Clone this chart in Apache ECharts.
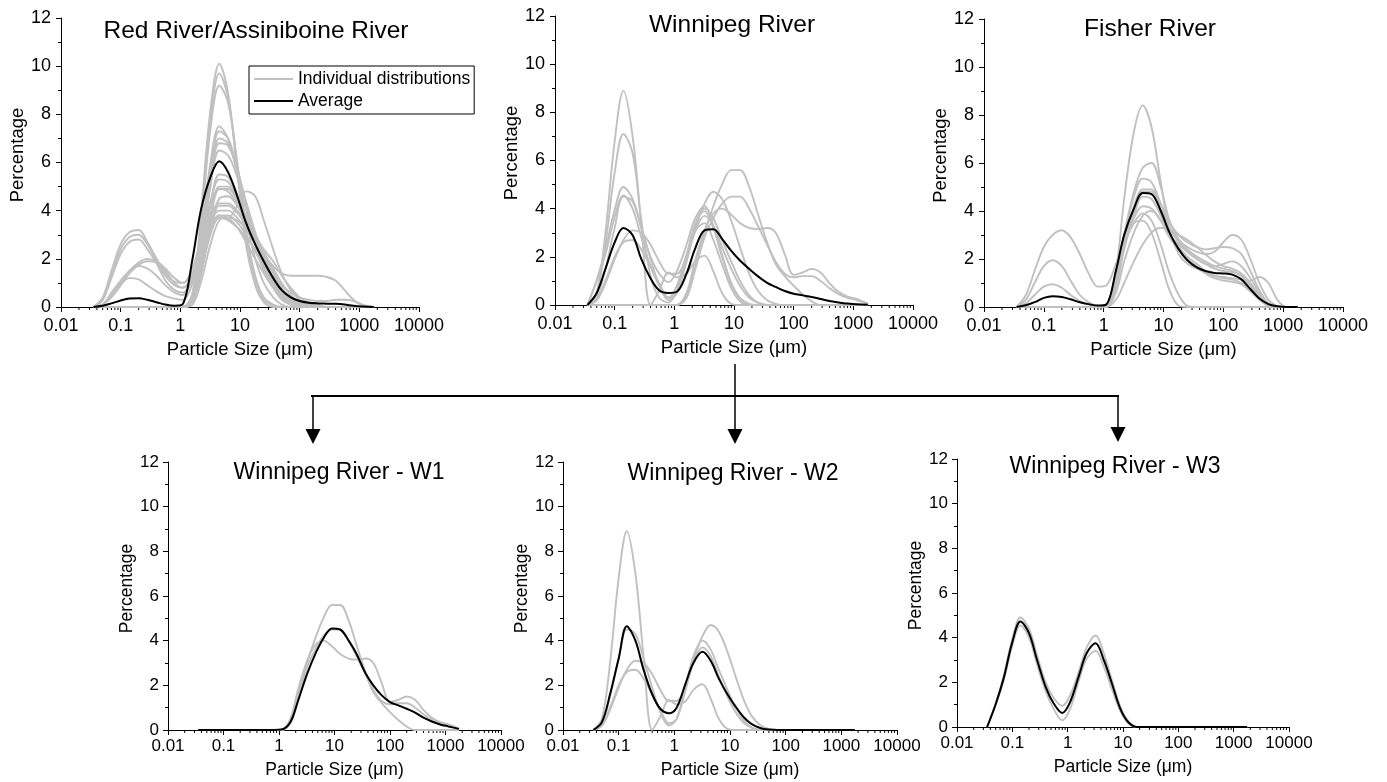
<!DOCTYPE html>
<html><head><meta charset="utf-8">
<script src="https://cdn.jsdelivr.net/npm/echarts@6/dist/echarts.min.js"></script>
<style>html,body{margin:0;padding:0;background:#fff;}#c{width:1387px;height:782px;}</style>
</head><body><div id="c"></div>
<script>
// ---------- data ----------
const sizes = [0.035,0.05,0.07,0.1,0.14,0.2,0.28,0.4,0.56,0.8,1.1,1.6,2.2,3.2,4.5,6.3,9,12.6,18,25,36,50,71,100,141,200,283,400,566,800,1130,1750];
const xTickLabels = ['0.01','0.1','1','10','100','1000','10000'];
const minorMultipliers = [2,3,4,5,6,7,8,9];
const decades = [0.01,0.1,1,10,100,1000];
const panelTitles = ['Red River/Assiniboine River','Winnipeg River','Fisher River','Winnipeg River - W1','Winnipeg River - W2','Winnipeg River - W3'];
const legendNames = ['Individual distributions','Average'];

const redRiverIndividual = [
 [0,0,0,0,0,0,0,0,0,0,0,0.6,3.8,8.2,10.1,8.9,5.6,2.6,0.9,0.2,0,0,0,0,0,0,0,0,0,0,0,0],
 [0,0,0,0,0,0,0,0,0,0,0,0.5,3.5,7.8,9.7,8.7,5.8,2.9,1.1,0.3,0.05,0,0,0,0,0,0,0,0,0,0,0],
 [0,0,0,0,0,0,0,0,0,0,0,0.4,3.2,7.4,9.2,8.5,6.0,3.2,1.3,0.4,0.1,0,0,0,0,0,0,0,0,0,0,0],
 [0,0,0,0,0,0,0,0,0,0,0,0.4,2.8,6.0,7.5,7.0,5.5,3.6,2.0,1.0,0.4,0.1,0,0,0,0,0,0,0,0,0,0],
 [0,0,0,0,0,0,0,0,0,0,0,0.3,2.5,5.7,7.3,7.0,5.8,4.1,2.6,1.5,0.8,0.3,0.1,0,0,0,0,0,0,0,0,0],
 [0,0,0,0,0,0,0,0,0,0,0,0.3,2.3,5.4,7.0,6.8,5.7,4.2,2.8,1.7,0.9,0.4,0.1,0,0,0,0,0,0,0,0,0],
 [0,0,0,0,0,0,0,0,0,0,0,0.3,2.1,5.0,6.5,6.3,5.4,4.1,2.9,1.9,1.1,0.5,0.2,0.05,0,0,0,0,0,0,0,0],
 [0,0,0,0,0,0,0,0,0,0,0,0.2,1.4,3.0,3.7,3.7,4.2,4.8,4.6,3.6,2.4,1.4,0.7,0.3,0.1,0,0,0,0,0,0,0],
 [0,0,0,0,0,0,0,0,0,0,0,0.2,1.8,4.2,5.5,5.4,4.7,3.7,2.8,2.0,1.3,0.7,0.3,0.1,0,0,0,0,0,0,0,0],
 [0,0,0,0,0,0,0,0,0,0,0,0.2,1.6,3.8,5.0,5.0,4.5,3.8,3.0,2.2,1.5,0.8,0.4,0.15,0.05,0,0,0,0,0,0,0],
 [0,0,0,0,0,0,0,0,0,0,0,0.2,1.4,3.4,4.5,4.6,4.2,3.6,3.0,2.3,1.6,1.0,0.5,0.2,0.1,0,0,0,0,0,0,0],
 [0,0,0,0,0,0,0,0,0,0,0,0.2,1.3,3.2,4.2,4.2,3.9,3.4,2.8,2.2,1.7,1.4,1.3,1.3,1.3,1.3,1.25,1.1,0.7,0.3,0.05,0],
 [0,0.4,1.5,2.6,3.1,3.2,2.7,2.0,1.4,1.05,1.0,1.6,2.8,3.8,4.3,4.3,4.0,3.5,2.8,2.1,1.4,0.8,0.4,0.2,0.1,0.05,0,0,0,0,0,0],
 [0,0.3,1.3,2.4,2.9,3.0,2.6,1.9,1.3,0.9,0.8,1.3,2.5,3.5,4.0,4.0,3.7,3.2,2.6,1.9,1.2,0.7,0.3,0.15,0.05,0,0,0,0,0,0,0],
 [0,0.3,1.2,2.2,2.7,2.8,2.4,1.8,1.1,0.7,0.6,1.2,2.4,3.4,3.8,3.7,3.3,2.7,2.0,1.4,0.8,0.4,0.2,0.1,0,0,0,0,0,0,0,0],
 [0,0.1,0.5,1.0,1.5,1.85,2.0,1.9,1.6,1.2,1.0,1.4,2.4,3.3,3.7,3.6,3.3,2.9,2.4,1.8,1.2,0.7,0.35,0.15,0.05,0,0,0,0,0,0,0],
 [0,0.1,0.4,0.9,1.4,1.75,1.9,1.85,1.5,1.0,0.8,1.3,2.3,3.3,3.8,3.8,3.5,3.0,2.3,1.6,1.0,0.5,0.2,0.1,0,0,0,0,0,0,0,0],
 [0,0.1,0.5,0.95,1.2,1.15,0.9,0.65,0.45,0.35,0.3,1.0,2.7,4.4,5.3,5.2,4.6,3.6,2.6,1.7,1.0,0.5,0.2,0.1,0,0,0,0,0,0,0,0],
 [0,0.1,0.6,1.1,1.5,1.7,1.6,1.3,0.9,0.6,0.5,1.2,2.7,4.2,4.9,4.8,4.3,3.6,2.8,2.0,1.3,0.7,0.3,0.1,0,0,0,0,0,0,0,0],
 [0,0,0,0,0,0,0,0,0,0,0,0.2,1.5,3.6,4.9,4.9,4.4,3.6,2.8,2.0,1.4,0.9,0.6,0.4,0.3,0.25,0.25,0.3,0.3,0.25,0.1,0],
 [0,0,0,0,0,0,0,0,0,0,0,0.1,1.0,2.6,3.6,3.7,3.6,3.3,2.9,2.4,1.9,1.3,0.8,0.4,0.2,0.1,0,0,0,0,0,0],
 [0,0,0,0,0,0,0,0,0,0,0,0.3,2.2,5.2,6.8,6.7,5.7,4.4,3.1,2.0,1.2,0.6,0.25,0.1,0,0,0,0,0,0,0,0]
];
const redRiverAverage = [0,0.05,0.15,0.27,0.35,0.36,0.3,0.2,0.1,0.05,0.12,2.0,4.0,5.4,6.05,5.6,4.6,3.5,2.6,1.9,1.2,0.7,0.4,0.25,0.18,0.15,0.14,0.13,0.1,0.05,0.02,0];

const w1Individual = [
 [0,0,0,0,0,0,0,0,0,0,0,0.4,1.6,3.0,4.1,5.0,5.6,5.6,4.9,3.8,2.6,1.7,1.2,0.8,0.45,0.15,0,0,0,0,0,0],
 [0,0,0,0,0,0,0,0,0,0,0,0.3,1.4,2.8,3.6,4.2,4.5,4.5,4.0,3.3,2.5,1.8,1.3,1.15,1.2,1.2,1.0,0.7,0.45,0.3,0.2,0.05],
 [0,0,0,0,0,0,0,0,0,0,0,0.5,1.8,3.1,3.8,4.0,3.75,3.4,3.2,3.15,3.2,3.0,2.1,1.25,1.35,1.5,1.35,0.9,0.55,0.35,0.25,0.05]
];
const w1Average = [0,0,0,0,0,0,0,0,0,0,0.02,0.35,1.3,2.5,3.4,4.1,4.55,4.5,4.0,3.4,2.55,2.0,1.55,1.25,1.1,0.95,0.78,0.55,0.38,0.25,0.16,0.05];

const w2Individual = [
 [0,0.5,3.0,6.8,8.9,7.0,3.3,0,0.6,1.35,1.15,1.3,1.8,2.05,1.4,0.5,0.05,0,0,0,0,0,0,0,0,0,0,0,0,0,0,0],
 [0,0.3,1.5,3.2,4.5,4.3,3.2,1.9,0.8,0.2,0.5,2.0,3.3,4.0,3.6,2.7,1.8,1.0,0.4,0.1,0,0,0,0,0,0,0,0,0,0,0,0],
 [0,0.2,0.9,1.9,2.7,3.1,3.0,2.5,1.8,1.3,1.3,2.0,3.1,4.2,4.7,4.4,3.5,2.4,1.3,0.6,0.2,0.05,0,0,0,0,0,0,0,0,0,0],
 [0,0.2,1.0,2.0,2.6,2.7,2.3,1.6,0.9,0.3,0.5,1.8,3.0,3.7,3.3,2.4,1.5,0.8,0.3,0.1,0,0,0,0,0,0,0,0,0,0,0,0]
];
const w2Average = [0,0.35,1.6,3.2,4.65,4.0,2.7,1.6,0.95,0.75,1.0,2.1,3.0,3.5,3.1,2.3,1.6,1.05,0.55,0.25,0.08,0.02,0,0,0,0,0,0,0,0,0,0];

const w3Individual = [
 [0,1.05,2.3,3.95,4.9,4.4,3.2,2.0,1.3,0.95,1.4,2.5,3.55,4.1,3.3,2.1,0.9,0.25,0,0,0,0,0,0,0,0,0,0,0,0,0,0],
 [0,1.0,2.1,3.65,4.55,4.0,2.8,1.6,0.8,0.3,0.8,2.1,3.05,3.4,2.7,1.7,0.7,0.15,0,0,0,0,0,0,0,0,0,0,0,0,0,0]
];
const w3Average = [0,1.02,2.2,3.8,4.72,4.2,3.0,1.8,1.05,0.63,1.1,2.3,3.3,3.75,3.0,1.95,0.8,0.2,0,0,0,0,0,0,0,0,0,0,0,0,0,0];

const winnipegExtra = [
 [0,0.5,2.5,5.5,7.1,6.3,3.5,1.2,0.3,0.1,0.6,2.0,3.3,3.9,3.2,2.0,0.9,0.3,0.05,0,0,0,0,0,0,0,0,0,0,0,0,0]
];
const winnipegIndividual = w1Individual.concat(w2Individual, w3Individual, winnipegExtra);
const winnipegAverage = [0,0.5,1.5,2.6,3.2,2.9,1.9,1.1,0.6,0.5,0.55,1.3,2.3,3.1,3.15,2.75,2.25,1.85,1.5,1.2,0.92,0.75,0.58,0.47,0.4,0.33,0.25,0.17,0.1,0.06,0.03,0.01];

const fisherIndividual = [
 [0,0.5,1.5,2.5,3.0,3.2,2.9,2.2,1.4,0.85,0.9,1.8,2.8,3.5,3.6,3.1,1.9,0.7,0.05,0,0,0,0,0,0,0,0,0,0,0,0,0],
 [0,0.3,1.0,1.7,1.95,1.7,1.1,0.5,0.2,0.05,0.1,1.5,4.5,7.3,8.4,7.5,5.2,3.2,2.2,1.8,1.6,1.45,1.3,1.2,1.15,1.0,0.7,0.35,0.1,0,0,0],
 [0,0.15,0.5,0.85,0.95,0.8,0.5,0.25,0.1,0.03,0.1,1.2,3.0,4.8,5.8,6.0,5.0,3.6,2.8,2.4,2.1,1.9,1.7,1.6,1.5,1.3,0.9,0.4,0.1,0,0,0],
 [0,0,0,0,0,0,0,0,0,0,0.05,1.2,3.0,4.6,5.35,5.2,4.3,3.3,2.7,2.3,2.0,1.8,1.6,1.5,1.45,1.3,0.9,0.45,0.1,0,0,0],
 [0,0,0,0,0,0,0,0,0,0,0,1.0,2.8,4.2,4.9,4.9,4.3,3.5,3.0,2.7,2.5,2.4,2.45,2.5,2.45,2.2,1.5,0.7,0.15,0,0,0],
 [0,0,0,0,0,0,0,0,0,0,0,0.9,2.6,4.0,4.8,4.8,4.1,3.3,2.8,2.5,2.3,2.2,2.3,2.7,3.0,2.8,2.0,1.0,0.3,0.05,0,0],
 [0,0,0,0,0,0,0,0,0,0,0,0.8,2.4,3.8,4.6,4.5,3.8,3.0,2.5,2.1,1.8,1.5,1.3,1.25,1.2,1.15,1.1,1.25,1.0,0.3,0,0],
 [0,0,0,0,0,0,0,0,0,0,0,0.6,1.9,3.1,3.8,4.0,3.6,3.0,2.6,2.3,2.0,1.8,1.7,1.8,1.9,1.7,1.2,0.6,0.15,0,0,0],
 [0,0,0,0,0,0,0,0,0,0,0,0.3,1.0,1.9,2.6,3.1,3.3,3.2,3.0,2.8,2.5,2.2,1.9,1.7,1.6,1.4,1.0,0.5,0.1,0,0,0],
 [0,0,0,0,0,0,0,0,0,0,0,1.2,2.6,3.5,3.9,3.6,2.6,1.4,0.5,0.05,0,0,0,0,0,0,0,0,0,0,0,0],
 [0,0,0,0,0,0,0,0,0,0,0,1.0,2.6,3.7,4.2,4.1,3.6,2.9,2.4,2.0,1.7,1.4,1.2,1.1,1.05,0.95,0.65,0.3,0.05,0,0,0]
];
const fisherAverage = [0,0.07,0.2,0.38,0.45,0.42,0.32,0.2,0.12,0.06,0.1,1.5,3.0,4.1,4.75,4.7,4.0,3.1,2.4,1.95,1.65,1.5,1.42,1.4,1.35,1.15,0.75,0.35,0.12,0.03,0,0];

const panelIndividual = [redRiverIndividual, winnipegIndividual, fisherIndividual, w1Individual, w2Individual, w3Individual];
const panelAverage = [redRiverAverage, winnipegAverage, fisherAverage, w1Average, w2Average, w3Average];

// ---------- layout / style ----------
const FONT = 'Arial, "Liberation Sans", Helvetica, sans-serif';
const layout = [
 {left:61,  top:18,  width:358, height:289, tick:18, name:18.5, title:24.5, tx:256,  ty:31,  yGap:32, xGap:33, ym:10, xm:10},
 {left:555, top:16,  width:358, height:289, tick:18, name:18.5, title:24.5, tx:732,  ty:25,  yGap:32, xGap:33, ym:10, xm:10},
 {left:984, top:19,  width:359, height:288, tick:18, name:18.5, title:24.5, tx:1150, ty:29,  yGap:32, xGap:33, ym:10, xm:10},
 {left:168, top:462, width:333, height:268, tick:17, name:17.5, title:23,   tx:339,  ty:473, yGap:30, xGap:31, ym:9,  xm:8},
 {left:563, top:462, width:334, height:268, tick:17, name:17.5, title:23,   tx:733,  ty:474, yGap:30, xGap:31, ym:9,  xm:8},
 {left:957, top:459, width:332, height:268, tick:17, name:17.5, title:23,   tx:1115, ty:467, yGap:30, xGap:31, ym:9,  xm:8}
];
const GREY = '#c0c0c0';

const minorTickValues = [];
decades.forEach(d => minorMultipliers.forEach(m => minorTickValues.push(+(d*m).toPrecision(3))));

const grids = [], xAxes = [], yAxes = [], series = [], graphics = [];
layout.forEach((L, i) => {
  grids.push({left:L.left, top:L.top, width:L.width, height:L.height, containLabel:false});
  xAxes.push({
    type:'log', logBase:10, gridIndex:i, min:0.01, max:10000, splitNumber:6,
    name:'Particle Size (\u03bcm)', nameLocation:'middle', nameGap:L.xGap,
    nameTextStyle:{fontSize:L.name, color:'#000', fontFamily:FONT},
    axisLine:{show:true, onZero:false, lineStyle:{color:'#000', width:1}},
    axisTick:{show:true, length:5, lineStyle:{color:'#000', width:1}},
    minorTick:{show:false},
    splitLine:{show:false},
    axisLabel:{fontSize:L.tick, color:'#000', fontFamily:FONT, margin:L.xm,
      formatter: v => xTickLabels[Math.round(Math.log10(v)) + 2]}
  });
  yAxes.push({
    type:'value', gridIndex:i, min:0, max:12, interval:2,
    name:'Percentage', nameLocation:'middle', nameGap:L.yGap,
    nameTextStyle:{fontSize:L.name, color:'#000', fontFamily:FONT, padding:[0,0,0,15]},
    axisLine:{show:true, lineStyle:{color:'#000', width:1}},
    axisTick:{show:true, length:5, lineStyle:{color:'#000', width:1}},
    minorTick:{show:true, splitNumber:2, length:3, lineStyle:{color:'#000', width:1}},
    splitLine:{show:false},
    axisLabel:{fontSize:L.tick, color:'#000', fontFamily:FONT, margin:L.ym}
  });
  panelIndividual[i].forEach(arr => {
    series.push({
      type:'line', name:legendNames[0], xAxisIndex:i, yAxisIndex:i,
      data: sizes.map((s,k) => [s, arr[k]]),
      smooth:0.35, symbol:'none', silent:true, z:2,
      lineStyle:{color:GREY, width:1.9}, itemStyle:{color:GREY}
    });
  });
  series.push({
    type:'line', name:legendNames[1], xAxisIndex:i, yAxisIndex:i,
    data: sizes.map((s,k) => [s, panelAverage[i][k]]),
    smooth:0.35, symbol:'none', silent:true, z:3,
    lineStyle:{color:'#000', width:2}, itemStyle:{color:'#000'}
  });
  series.push({
    type:'custom', xAxisIndex:i, yAxisIndex:i, silent:true, clip:false, z:1,
    data: minorTickValues.map(v => [v, 0]),
    renderItem: (params, api) => {
      const p = api.coord([api.value(0), 0]);
      return {type:'line', shape:{x1:p[0], y1:p[1], x2:p[0], y2:p[1]+3}, style:{stroke:'#000', lineWidth:1}};
    }
  });
  graphics.push({type:'text', x:L.tx, y:L.ty, silent:true,
    style:{text:panelTitles[i], fontSize:L.title, fontFamily:FONT, fill:'#000', textAlign:'center', textVerticalAlign:'middle'}});
});

// connector arrows (annotation)
const arrowStyle = {stroke:'#000', lineWidth:1.5};
graphics.push({type:'line', shape:{x1:735, y1:364, x2:735, y2:396}, style:arrowStyle});
graphics.push({type:'line', shape:{x1:311, y1:396, x2:1119, y2:396}, style:{stroke:'#000', lineWidth:2}});
[[313,444],[735,444],[1118,442]].forEach(([ax, tip]) => {
  graphics.push({type:'line', shape:{x1:ax, y1:396, x2:ax, y2:tip-12}, style:arrowStyle});
  graphics.push({type:'polygon', shape:{points:[[ax-7.5, tip-15],[ax+7.5, tip-15],[ax, tip]]}, style:{fill:'#000'}});
});

const option = {
  animation:false,
  backgroundColor:'#fff',
  textStyle:{fontFamily:FONT},
  legend:{
    data:legendNames, orient:'vertical', left:249, top:66,
    padding:[4,4,4,4], itemGap:4, itemWidth:39, itemHeight:14,
    borderColor:'#000', borderWidth:1, borderRadius:0,
    selectedMode:false,
    itemStyle:{opacity:0, borderWidth:0},
    textStyle:{fontSize:17.5, color:'#000', fontFamily:FONT, padding:[0,0,0,0]}
  },
  grid:grids, xAxis:xAxes, yAxis:yAxes, series:series, graphic:graphics
};
const chart = echarts.init(document.getElementById('c'));
chart.setOption(option);
</script></body></html>
